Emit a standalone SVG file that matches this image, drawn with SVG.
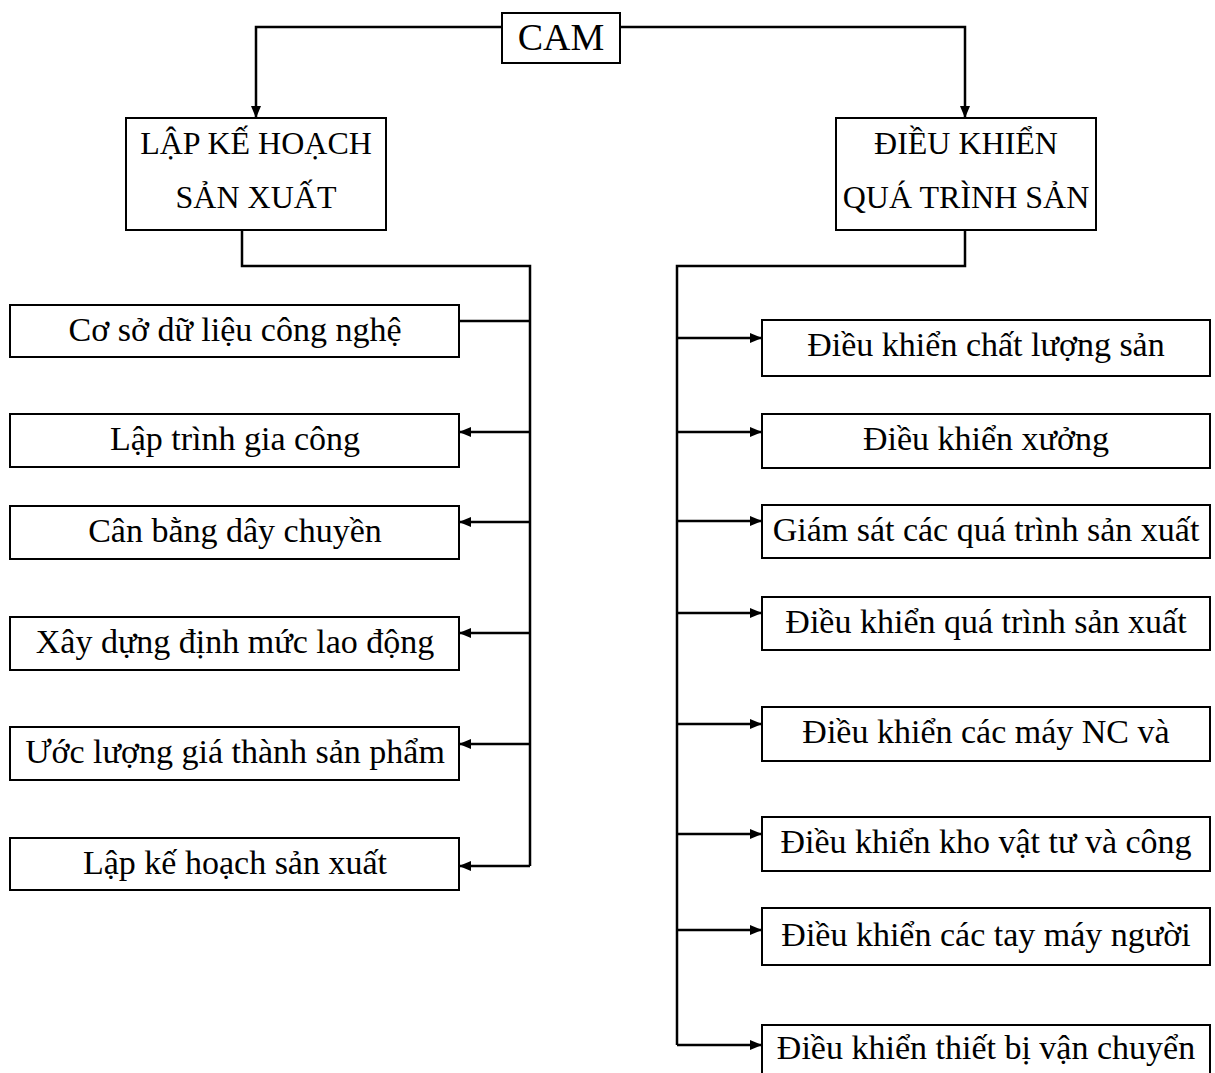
<svg xmlns="http://www.w3.org/2000/svg" width="1215" height="1073" viewBox="0 0 1215 1073">
<style>
.box{fill:#fff;stroke:#000;stroke-width:2}
.t{font-family:"Liberation Serif","Times New Roman",serif;font-size:34px;fill:#000;text-anchor:middle}
.hd{font-size:32px}
.big{font-size:38px}
.c{fill:none;stroke:#000;stroke-width:2.5}
</style>
<defs>
<marker id="ah" markerUnits="userSpaceOnUse" markerWidth="12" markerHeight="10" refX="11" refY="5" orient="auto">
<path d="M0,0 L12,5 L0,10 Z" fill="#000"/>
</marker>
</defs>
<rect width="1215" height="1073" fill="#fff"/>
<g id="connectors">
<path class="c" d="M502,27 H256 V117" marker-end="url(#ah)"/>
<path class="c" d="M620,27 H965 V117" marker-end="url(#ah)"/>
<path class="c" d="M242,230 V266 H530 V866"/>
<path class="c" d="M530,321 H459"/>
<path class="c" d="M530,432 H460" marker-end="url(#ah)"/>
<path class="c" d="M530,522 H460" marker-end="url(#ah)"/>
<path class="c" d="M530,633 H460" marker-end="url(#ah)"/>
<path class="c" d="M530,744 H460" marker-end="url(#ah)"/>
<path class="c" d="M530,866 H460" marker-end="url(#ah)"/>
<path class="c" d="M965,230 V266 H677 V1045"/>
<path class="c" d="M677,338 H761" marker-end="url(#ah)"/>
<path class="c" d="M677,432 H761" marker-end="url(#ah)"/>
<path class="c" d="M677,521 H761" marker-end="url(#ah)"/>
<path class="c" d="M677,613 H761" marker-end="url(#ah)"/>
<path class="c" d="M677,724 H761" marker-end="url(#ah)"/>
<path class="c" d="M677,834 H761" marker-end="url(#ah)"/>
<path class="c" d="M677,930 H761" marker-end="url(#ah)"/>
<path class="c" d="M677,1045 H761" marker-end="url(#ah)"/>
</g>
<g id="cam"><rect class="box" x="502" y="13" width="118" height="50"/><text class="t big" x="561" y="50">CAM</text></g>
<g id="lap-ke-hoach"><rect class="box" x="126" y="118" width="260" height="112"/><text class="t hd" x="256" y="154">LẬP KẾ HOẠCH</text><text class="t hd" x="256" y="208">SẢN XUẤT</text></g>
<g id="dieu-khien"><rect class="box" x="836" y="118" width="260" height="112"/><text class="t hd" x="966" y="154">ĐIỀU KHIỂN</text><text class="t hd" x="966" y="208">QUÁ TRÌNH SẢN</text></g>
<g id="l1"><rect class="box" x="10" y="305" width="449" height="52"/><text class="t" x="235" y="341">Cơ sở dữ liệu công nghệ</text></g>
<g id="l2"><rect class="box" x="10" y="414" width="449" height="53"/><text class="t" x="235" y="450">Lập trình gia công</text></g>
<g id="l3"><rect class="box" x="10" y="506" width="449" height="53"/><text class="t" x="235" y="542">Cân bằng dây chuyền</text></g>
<g id="l4"><rect class="box" x="10" y="617" width="449" height="53"/><text class="t" x="235" y="653">Xây dựng định mức lao động</text></g>
<g id="l5"><rect class="box" x="10" y="727" width="449" height="53"/><text class="t" x="235" y="763">Ước lượng giá thành sản phẩm</text></g>
<g id="l6"><rect class="box" x="10" y="838" width="449" height="52"/><text class="t" x="235" y="874">Lập kế hoạch sản xuất</text></g>
<g id="r1"><rect class="box" x="762" y="320" width="448" height="56"/><text class="t" x="986" y="356">Điều khiển chất lượng sản</text></g>
<g id="r2"><rect class="box" x="762" y="414" width="448" height="54"/><text class="t" x="986" y="450">Điều khiển xưởng</text></g>
<g id="r3"><rect class="box" x="762" y="505" width="448" height="53"/><text class="t" x="986" y="541">Giám sát các quá trình sản xuất</text></g>
<g id="r4"><rect class="box" x="762" y="597" width="448" height="53"/><text class="t" x="986" y="633">Điều khiển quá trình sản xuất</text></g>
<g id="r5"><rect class="box" x="762" y="707" width="448" height="54"/><text class="t" x="986" y="743">Điều khiển các máy NC và</text></g>
<g id="r6"><rect class="box" x="762" y="817" width="448" height="54"/><text class="t" x="986" y="853">Điều khiển kho vật tư và công</text></g>
<g id="r7"><rect class="box" x="762" y="908" width="448" height="57"/><text class="t" x="986" y="946">Điều khiển các tay máy người</text></g>
<g id="r8"><rect class="box" x="762" y="1025" width="448" height="60"/><text class="t" x="986" y="1059">Điều khiển thiết bị vận chuyển</text></g>
</svg>
